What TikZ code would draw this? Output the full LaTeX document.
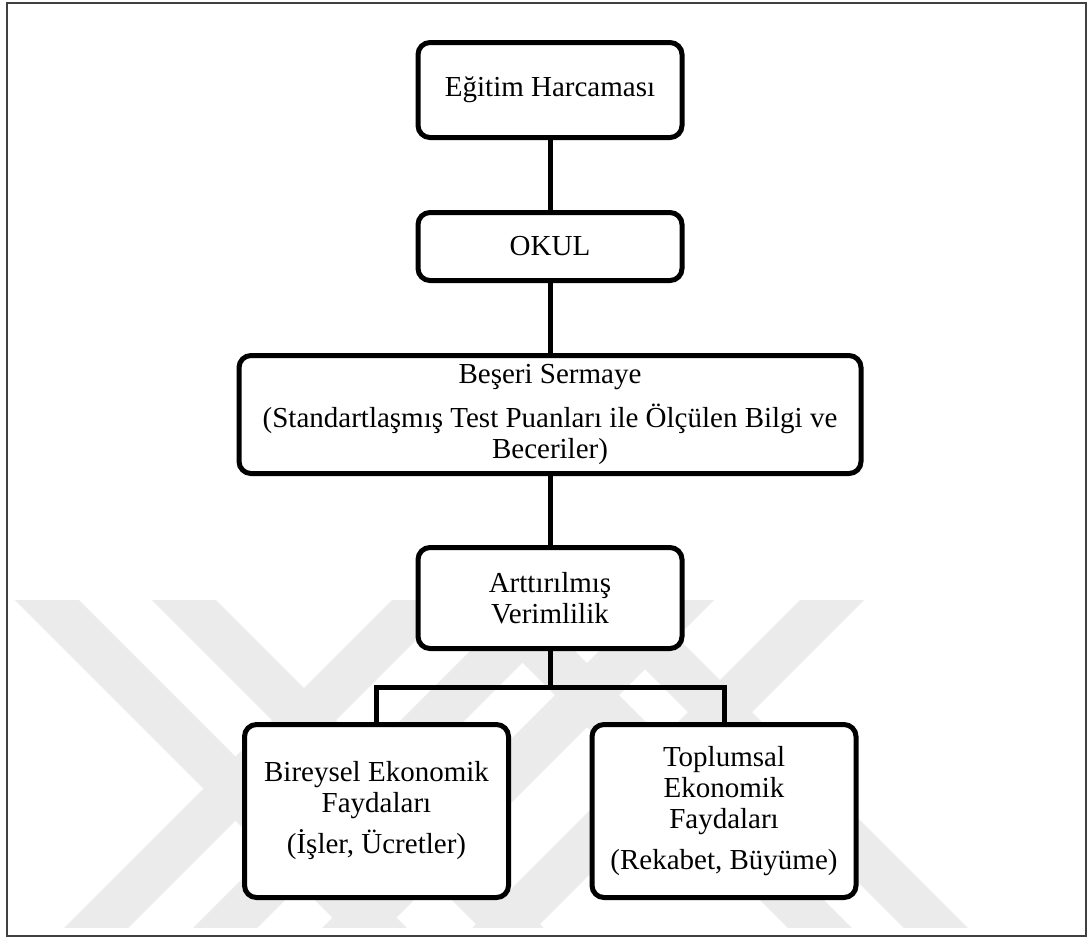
\documentclass[tikz,border=0pt]{standalone}
\usepackage{fontspec}
\setmainfont{Liberation Serif}
\begin{document}
\begin{tikzpicture}[x=0.5pt,y=-0.5pt,
  flowbox/.style={draw=black, line width=2.5pt, rounded corners=6pt, fill=white,
    inner sep=0pt, align=center,
    font=\fontsize{14.5pt}{15.5pt}\selectfont},
  link/.style={draw=black, line width=2.5pt},
  wm/.style={fill=black!8},
  frame/.style={draw=black!75, line width=1pt}]
\useasboundingbox (0,0) rectangle (1090,939);

% faint background emblem made of diagonal bands
\begin{scope}
  \clip (8,600) rectangle (1085,927);
  \foreach \a in {50,187,495,611}
    \fill[wm] ({\a-135},500) -- ({\a-71},500) -- ({\a+429},1000) -- ({\a+365},1000) -- cycle;
  \foreach \b in {357,486,615,765}
    \fill[wm] ({\b+135},500) -- ({\b+199},500) -- ({\b-301},1000) -- ({\b-365},1000) -- cycle;
\end{scope}

% outer frame
\draw[frame] (7,3) rectangle (1086,936);

% boxes
\node[flowbox, minimum width=132pt, minimum height=47.5pt] (b1) at (550,90) {Eğitim Harcaması};
\node[flowbox, minimum width=132pt, minimum height=34pt] (b2) at (550,246.5) {OKUL};
\node[flowbox, minimum width=311pt, minimum height=59pt] (b3) at (550,414.5)
  {Beşeri Sermaye\\[6.5pt](Standartlaşmış Test Puanları ile Ölçülen Bilgi ve\\Beceriler)};
\node[flowbox, minimum width=132pt, minimum height=50.5pt] (b4) at (550,598) {Arttırılmış\\Verimlilik};
\node[flowbox, minimum width=132pt, minimum height=86.5pt] (b5) at (376.5,811)
  {Bireysel Ekonomik\\Faydaları\\[5pt](İşler, Ücretler)};
\node[flowbox, minimum width=132pt, minimum height=86.5pt] (b6) at (724,811)
  {Toplumsal\\Ekonomik\\Faydaları\\[5pt](Rekabet, Büyüme)};

% connectors
\coordinate (split) at (550,687);
\draw[link] (b1) -- (b2);
\draw[link] (b2) -- (b3);
\draw[link] (b3) -- (b4);
\draw[link] (b4.south) -- (split);
\draw[link] (b5.north) |- (split) -| (b6.north);
\end{tikzpicture}
\end{document}
